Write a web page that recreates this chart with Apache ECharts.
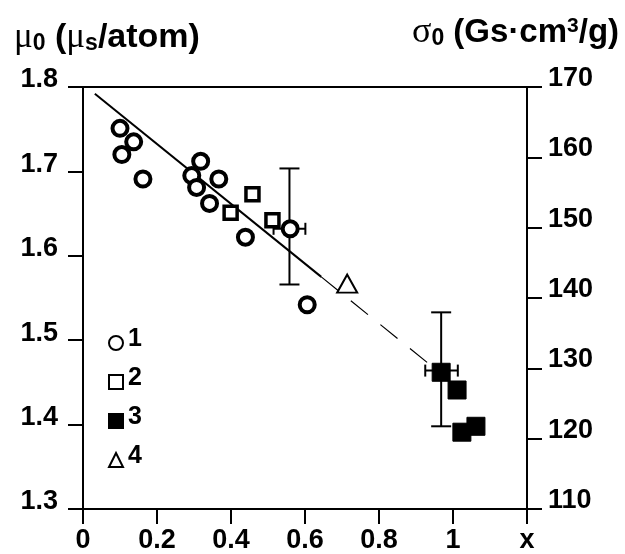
<!DOCTYPE html>
<html>
<head>
<meta charset="utf-8">
<script src="https://cdn.jsdelivr.net/npm/echarts@6/dist/echarts.min.js"></script>
<style>
html,body{margin:0;padding:0;background:#fff;}
#chart{width:625px;height:554px;}
</style>
</head>
<body>
<div id="chart"></div>
<script>
// ---- data ----
const xTicks = [0, 0.2, 0.4, 0.6, 0.8, 1, 1.2];
const xTickLabels = ['0', '0.2', '0.4', '0.6', '0.8', '1', 'x'];

const s1X = [0.100, 0.137, 0.105, 0.162, 0.318, 0.294, 0.367, 0.307, 0.342, 0.439, 0.560, 0.606];
const s1Y = [1.751, 1.735, 1.720, 1.691, 1.712, 1.695, 1.691, 1.681, 1.662, 1.622, 1.632, 1.542];

const s2X = [0.458, 0.399, 0.512];
const s2Y = [1.673, 1.651, 1.642];

const s3X = [0.968, 1.011, 1.062, 1.024];
const s3Y = [1.462, 1.441, 1.398, 1.391];

const s4X = [0.714];
const s4Y = [1.567];

const fitSolidX = [0.032, 0.644];
const fitSolidY = [1.792, 1.575];
const fitDashX = [0.644, 0.949];
const fitDashY = [1.575, 1.467];

const errX = [0.558, 0.968];
const errY = [1.632, 1.464];
const errYLow = [1.566, 1.398];
const errYHigh = [1.7035, 1.533];
const errXLow = [0.515, 0.925];
const errXHigh = [0.601, 1.013];

const legendNames = ['1', '2', '3', '4'];

// ---- build ----
const zip = (a, b) => a.map((v, i) => [v, b[i]]);
const errData = errX.map((v, i) => [v, errY[i], errYLow[i], errYHigh[i], errXLow[i], errXHigh[i]]);

const FONT = "'Liberation Sans', Arial, Helvetica, sans-serif";
const SERIF = "'Liberation Serif', 'DejaVu Serif', serif";
const black = '#000';

const chart = echarts.init(document.getElementById('chart'), null, {renderer: 'canvas'});

const option = {
  animation: false,
  backgroundColor: '#fff',
  title: [
    {
      left: 9, top: 15,
      text: '{g|μ}{s|0}{b| (}{g|μ}{s|s}{b|/atom)}',
      textStyle: {
        rich: {
          g: {fontFamily: SERIF, fontSize: 35, fontWeight: 'normal', color: black},
          s: {fontFamily: FONT, fontSize: 23, fontWeight: 'bold', color: black, padding: [12, 0, 0, 0]},
          b: {fontFamily: FONT, fontSize: 34, fontWeight: 'bold', color: black}
        }
      }
    },
    {
      left: 407, top: 10,
      text: '{g|σ}{s|0}{b| (Gs·cm}{p|3}{b|/g)}',
      textStyle: {
        rich: {
          g: {fontFamily: SERIF, fontSize: 36, fontWeight: 'normal', color: black},
          s: {fontFamily: FONT, fontSize: 23, fontWeight: 'bold', color: black, padding: [12, 0, 0, 0]},
          b: {fontFamily: FONT, fontSize: 33, fontWeight: 'bold', color: black},
          p: {fontFamily: FONT, fontSize: 21, fontWeight: 'bold', color: black, padding: [0, 0, 14, 0]}
        }
      }
    }
  ],
  grid: {left: 83, right: 98, top: 87, bottom: 42, containLabel: false},
  legend: {
    data: legendNames,
    orient: 'vertical',
    left: 103,
    top: 322,
    itemWidth: 14,
    itemHeight: 14,
    itemGap: 14,
    formatter: '{a|{name}}',
    textStyle: {
      fontFamily: FONT, fontSize: 24, fontWeight: 'bold', color: black,
      rich: {a: {fontFamily: FONT, fontSize: 25, fontWeight: 'bold', color: black, verticalAlign: 'bottom', lineHeight: 18}}
    },
    selectedMode: false
  },
  xAxis: [
    {
      type: 'value', position: 'bottom', min: 0, max: 1.2, interval: 0.2,
      axisLine: {show: true, onZero: false, lineStyle: {color: black, width: 2}},
      axisTick: {show: true, inside: false, length: 15, lineStyle: {color: black, width: 2}},
      splitLine: {show: false},
      axisLabel: {
        margin: 18, color: black, fontFamily: FONT, fontSize: 27, fontWeight: 'bold',
        formatter: v => {
          const i = xTicks.findIndex(t => Math.abs(t - v) < 1e-9);
          return i >= 0 ? xTickLabels[i] : '';
        }
      }
    },
    {
      type: 'value', position: 'top', min: 0, max: 1.2, interval: 0.2,
      axisLine: {show: true, onZero: false, lineStyle: {color: black, width: 2}},
      axisTick: {show: false}, axisLabel: {show: false}, splitLine: {show: false}
    }
  ],
  yAxis: [
    {
      type: 'value', position: 'left', min: 1.3, max: 1.8, interval: 0.1,
      axisLine: {show: true, onZero: false, lineStyle: {color: black, width: 2}},
      axisTick: {show: true, inside: false, length: 15, lineStyle: {color: black, width: 2}},
      splitLine: {show: false},
      axisLabel: {
        margin: 25, color: black, fontFamily: FONT, fontSize: 27, fontWeight: 'bold',
        verticalAlign: 'bottom', lineHeight: 14,
        formatter: v => v.toFixed(1)
      }
    },
    {
      type: 'value', position: 'right', min: 110, max: 170, interval: 10,
      axisLine: {show: true, onZero: false, lineStyle: {color: black, width: 2}},
      axisTick: {show: true, inside: false, length: 15, lineStyle: {color: black, width: 2}},
      splitLine: {show: false},
      axisLabel: {
        margin: 21, color: black, fontFamily: FONT, fontSize: 27, fontWeight: 'bold',
        verticalAlign: 'bottom', lineHeight: 17
      }
    }
  ],
  series: [
    {
      name: 'fit', type: 'line', data: zip(fitSolidX, fitSolidY), symbol: 'none',
      lineStyle: {color: black, width: 2}, z: 1, silent: true
    },
    {
      name: 'fitDash', type: 'line', data: zip(fitDashX, fitDashY), symbol: 'none',
      lineStyle: {color: black, width: 1.2, type: [22, 16]}, z: 1, silent: true
    },
    {
      name: 'err', type: 'custom', data: errData, z: 2, silent: true,
      encode: {x: 0, y: 1},
      renderItem: (params, api) => {
        const x = api.value(0), y = api.value(1);
        const pT = api.coord([x, api.value(3)]);
        const pB = api.coord([x, api.value(2)]);
        const pL = api.coord([api.value(4), y]);
        const pR = api.coord([api.value(5), y]);
        const cap = 10, hcap = 6;
        const st = {stroke: black, lineWidth: 2, fill: null};
        const ln = (x1, y1, x2, y2) => ({type: 'line', shape: {x1, y1, x2, y2}, style: st});
        return {
          type: 'group',
          children: [
            ln(pT[0], pT[1], pB[0], pB[1]),
            ln(pT[0] - cap, pT[1], pT[0] + cap, pT[1]),
            ln(pB[0] - cap, pB[1], pB[0] + cap, pB[1]),
            ln(pL[0], pL[1], pR[0], pR[1]),
            ln(pL[0], pL[1] - hcap, pL[0], pL[1] + hcap),
            ln(pR[0], pR[1] - hcap, pR[0], pR[1] + hcap)
          ]
        };
      }
    },
    {
      name: '1', type: 'scatter', data: zip(s1X, s1Y), symbol: 'circle', symbolSize: 15, z: 5,
      itemStyle: {color: '#fff', borderColor: black, borderWidth: 4, opacity: 1}
    },
    {
      name: '2', type: 'scatter', data: zip(s2X, s2Y), symbol: 'rect', symbolSize: 13, z: 5,
      itemStyle: {color: '#fff', borderColor: black, borderWidth: 3.5, opacity: 1}
    },
    {
      name: '3', type: 'scatter', data: zip(s3X, s3Y), symbol: 'rect', symbolSize: 18, z: 5,
      itemStyle: {color: black, borderColor: black, borderWidth: 1, opacity: 1}
    },
    {
      name: '4', type: 'scatter', data: zip(s4X, s4Y), symbol: 'triangle', symbolSize: [20, 18], z: 5,
      itemStyle: {color: '#fff', borderColor: black, borderWidth: 2, opacity: 1}
    }
  ]
};

chart.setOption(option);
</script>
</body>
</html>
